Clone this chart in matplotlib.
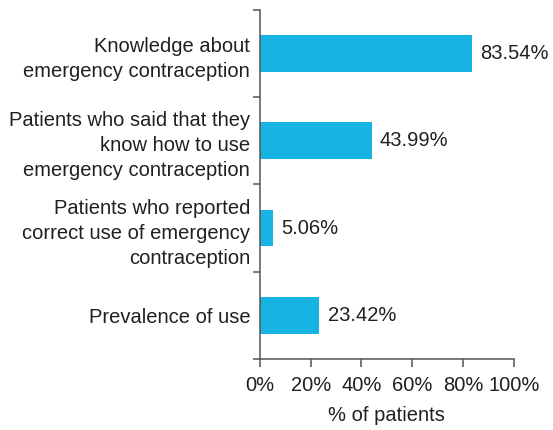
import matplotlib.pyplot as plt
import numpy as np

categories = [
    "Knowledge about\nemergency contraception",
    "Patients who said that they\nknow how to use\nemergency contraception",
    "Patients who reported\ncorrect use of emergency\ncontraception",
    "Prevalence of use",
]
values = [83.54, 43.99, 5.06, 23.42]
xticks = [0, 20, 40, 60, 80, 100]

TEXT = "#231f20"
AXIS = "#555555"
BAR = "#17b4e3"

plt.rcParams["font.family"] = ["Liberation Sans", "DejaVu Sans"]
plt.rcParams["font.size"] = 14.5

fig = plt.figure(figsize=(5.53, 4.30), dpi=100)
ax = fig.add_axes([0.470, 0.165, 0.459, 0.812])

y = np.arange(len(categories))
ax.barh(y, values, height=0.42, color=BAR, zorder=2)
for yi, v in zip(y, values):
    ax.annotate(f"{v:.2f}%", (v, yi), xytext=(6, 0), textcoords="offset points",
                va="center", ha="left", color=TEXT)

ax.set_xlim(0, 100)
ax.set_ylim(len(categories) - 0.5, -0.5)
ax.set_xticks(xticks)
ax.set_xticklabels([f"{t}%" for t in xticks], color=TEXT)
ax.set_yticks(y)
ax.set_yticklabels(categories, color=TEXT, linespacing=1.4)
ax.set_yticks(np.arange(len(categories) + 1) - 0.5, minor=True)
ax.tick_params(axis="y", which="major", length=0, pad=7)
ax.tick_params(axis="y", which="minor", length=5, width=1.1, color=AXIS)
ax.tick_params(axis="x", length=6, width=1.1, color=AXIS, pad=6)
ax.set_xlabel("% of patients", color=TEXT, labelpad=8)

for side in ["top", "right"]:
    ax.spines[side].set_visible(False)
for side in ["left", "bottom"]:
    ax.spines[side].set_color(AXIS)
    ax.spines[side].set_linewidth(1.1)

fig.savefig("out.png", dpi=100)
